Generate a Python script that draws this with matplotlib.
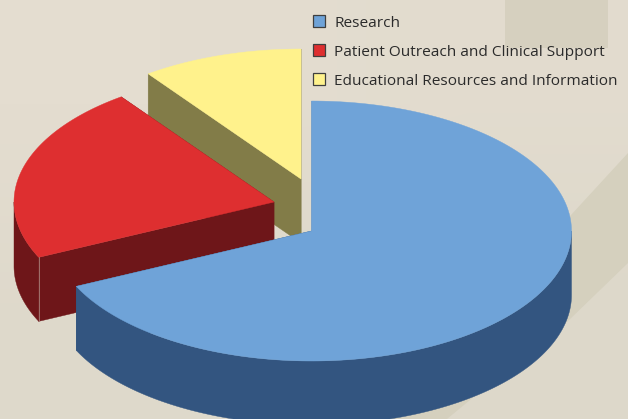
import matplotlib
matplotlib.use('Agg')
import matplotlib.pyplot as plt
from matplotlib.patches import Polygon, Rectangle, PathPatch
from matplotlib.path import Path
import numpy as np

LABELS = ['Research', 'Patient Outreach and Clinical Support', 'Educational Resources and Information']
VALUES = [68, 22, 10]
TOP_COLORS = ['#6fa3d8', '#de2f30', '#fff28c']
SIDE_COLORS = ['#335580', '#6e1619', '#827c48']

# apex of each slice, the slices are pulled apart
CENTERS = [(311.5, 231), (274, 202), (301, 179)]
RX = 260
RY = 130
DEPTH = 64


def arc_points(center, start, end):
    # angles in degrees, clockwise from 12 o'clock
    t = np.radians(np.linspace(start, end, 200))
    return np.column_stack([center[0] + RX * np.sin(t), center[1] - RY * np.cos(t)])


def draw_background(ax):
    grad = np.array([[0.0, 0.25], [0.75, 1.0]])
    colors = matplotlib.colors.LinearSegmentedColormap.from_list('bg', ['#e4ddd0', '#ddd8ca'])
    ax.imshow(grad, extent=(0, 628, 419, 0), cmap=colors, interpolation='bilinear', aspect='auto', zorder=0)
    ax.add_patch(Rectangle((505, 0), 103, 48, fc='#d6d0bf', ec='none', zorder=1))
    verts = [(628, 153), (571, 215), (540, 245), (500, 275), (400, 340), (330, 375), (300, 419),
             (447, 419), (500, 375), (567, 322), (628, 263), (628, 153)]
    codes = [Path.MOVETO, Path.LINETO, Path.LINETO, Path.LINETO, Path.LINETO, Path.LINETO, Path.LINETO,
             Path.LINETO, Path.CURVE3, Path.CURVE3, Path.LINETO, Path.CLOSEPOLY]
    ax.add_patch(PathPatch(Path(verts, codes), fc='#d5d0be', ec='none', zorder=1))


def draw_slice(ax, center, start, end, top_color, side_color, z):
    cx, cy = center
    arc = arc_points(center, start, end)

    # flat wall from the apex out to the edge where the slice starts
    for ang in (start, end):
        p = arc_points(center, ang, ang)[0]
        wall = [(cx, cy), tuple(p), (p[0], p[1] + DEPTH), (cx, cy + DEPTH)]
        ax.add_patch(Polygon(wall, fc=side_color, ec=side_color, lw=0.3, zorder=z))

    # outer rim, only the part facing the viewer
    lo, hi = max(start, 90), min(end, 270)
    if lo < hi:
        rim = arc_points(center, lo, hi)
        outline = np.vstack([rim, (rim + [0, DEPTH])[::-1]])
        ax.add_patch(Polygon(outline, fc=side_color, ec=side_color, lw=0.3, zorder=z))

    ax.add_patch(Polygon(np.vstack([[cx, cy], arc]), fc=top_color, ec=top_color, lw=0.3, zorder=z + 0.5))


def draw_pie(ax):
    fracs = np.array(VALUES) / sum(VALUES) * 360
    edges = np.concatenate([[0], np.cumsum(fracs)])
    # back slices first so the big one lands on top
    for i in [2, 1, 0]:
        draw_slice(ax, CENTERS[i], edges[i], edges[i + 1], TOP_COLORS[i], SIDE_COLORS[i], 2 + (2 - i))
    # thin light seam on the red slice
    p = arc_points(CENTERS[1], edges[1], edges[1])[0]
    ax.plot([p[0], p[0]], [p[1], p[1] + DEPTH], color='#a87f78', lw=0.6, zorder=3.8)


def draw_legend(ax):
    ys = [21.5, 50, 79]
    for label, color, y in zip(LABELS, TOP_COLORS, ys):
        ax.add_patch(Rectangle((313, y - 5), 12, 12, fc='#9a9588', ec='none', zorder=9))
        ax.add_patch(Rectangle((312.5, y - 6), 12, 12, fc=color, ec='#3f3f3f', lw=0.9, zorder=10))
        ax.text(334, y + 5.7, label, fontsize=11.1, family='Open Sans', color='#2b2b2b', va='baseline', ha='left', zorder=10)


if __name__ == '__main__':
    fig = plt.figure(figsize=(6.28, 4.19), dpi=100)
    ax = fig.add_axes([0, 0, 1, 1])
    draw_background(ax)
    draw_pie(ax)
    draw_legend(ax)
    ax.set_xlim(0, 628)
    ax.set_ylim(419, 0)
    ax.axis('off')
    fig.savefig('out.png', dpi=100)
